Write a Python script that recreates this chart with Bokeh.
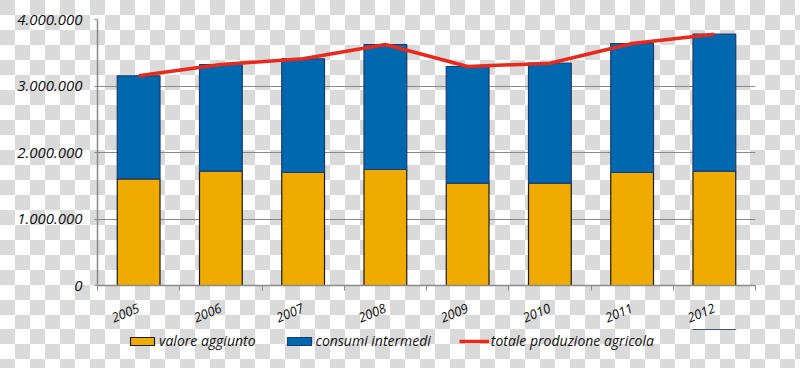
from bokeh.plotting import figure
from bokeh.layouts import column
from bokeh.models import (ColumnDataSource, FixedTicker, Legend, LegendItem,
                          CDSView, IndexFilter)
from bokeh.embed import file_html
from bokeh.resources import INLINE

# ---- data ----
years = ["2005", "2006", "2007", "2008", "2009", "2010", "2011", "2012"]
valore_aggiunto = [1604000, 1719000, 1699000, 1744000, 1538000, 1538000, 1699000, 1719000]
consumi_intermedi = [1549000, 1604000, 1710000, 1880000, 1755000, 1805000, 1940000, 2060000]
totale_produzione = [3153000, 3323000, 3409000, 3624000, 3293000, 3343000, 3639000, 3779000]
y_ticks = [0, 1000000, 2000000, 3000000, 4000000]
y_tick_labels = ["0", "1.000.000", "2.000.000", "3.000.000", "4.000.000"]
series_names = ["valore aggiunto", "consumi intermedi", "totale produzione agricola"]

xpos = list(range(len(years)))
source = ColumnDataSource(dict(x=xpos, valore=valore_aggiunto, consumi=consumi_intermedi,
                               totale=totale_produzione))

FONT = "Open Sans"
CHECKER = {"background-image": "repeating-conic-gradient(#ffffff 0% 25%, #dadada 0% 50%)",
           "background-size": "30px 30px", "background-position": "0 0"}
YELLOW, YELLOW_LINE = "#EFAB00", "#1a1a1a"
BLUE, BLUE_LINE = "#0068AE", "#1C3A70"
RED = "#E8291C"
GRID = "#8a8a8a"

p = figure(width=800, height=329, output_backend="svg", toolbar_location=None,
           x_range=(-0.5, len(years) - 0.5), y_range=(0, 4000000),
           min_border_left=97, min_border_right=45, min_border_top=19, min_border_bottom=44)
p.background_fill_color = None
p.border_fill_color = None
p.outline_line_color = None
p.styles = CHECKER

bars = p.vbar_stack(["valore", "consumi"], x="x", width=0.52, source=source,
                    fill_color=[YELLOW, BLUE], line_color=[YELLOW_LINE, BLUE_LINE],
                    line_width=1.2)
line = p.line("x", "totale", source=source, line_color=RED, line_width=3.5)

# axes
p.xaxis.ticker = FixedTicker(ticks=xpos, minor_ticks=[i - 0.5 for i in range(len(years) + 1)])
p.xaxis.major_label_overrides = {i: y for i, y in enumerate(years)}
p.xaxis.major_tick_out = 0
p.xaxis.major_tick_in = 0
p.xaxis.minor_tick_out = 5
p.xaxis.minor_tick_in = 0
p.xaxis.minor_tick_line_color = GRID
p.xaxis.major_label_orientation = 0.40
p.xaxis.major_label_standoff = 17

p.yaxis.ticker = FixedTicker(ticks=y_ticks)
p.yaxis.major_label_overrides = {t: l for t, l in zip(y_ticks, y_tick_labels)}
p.yaxis.major_tick_out = 3
p.yaxis.major_tick_in = 0
p.yaxis.minor_tick_line_color = None
p.yaxis.major_label_standoff = 12

for ax in (p.xaxis, p.yaxis):
    ax.axis_line_color = GRID
    ax.axis_line_width = 1.5
    ax.major_tick_line_color = GRID
    ax.major_label_text_font = FONT
    ax.major_label_text_font_style = "italic"
    ax.major_label_text_font_size = "13px"
    ax.major_label_text_color = "#111111"
p.yaxis.major_label_text_font_size = "15px"

p.xgrid.grid_line_color = None
p.ygrid.grid_line_color = GRID
p.ygrid.grid_line_width = 1.2

# ---- legend strip (separate figure so that the legend is not clipped) ----
# same data and styles, kept outside this strip's visible y range: only the legend shows
pl = figure(width=800, height=39, output_backend="svg", toolbar_location=None,
            x_axis_type=None, y_axis_type=None, min_border=0,
            x_range=(-0.5, len(years) - 0.5), y_range=(-8000000, -4000000))
pl.background_fill_color = None
pl.border_fill_color = None
pl.outline_line_color = None
pl.grid.grid_line_color = None
pl.styles = CHECKER

last = [len(years) - 1]
r1 = pl.vbar(x="x", top="valore", width=0.52, source=source, fill_color=YELLOW,
             line_color=YELLOW_LINE, line_width=1.2,
             view=CDSView(filter=IndexFilter(indices=last)))
r2 = pl.vbar(x="x", top="consumi", width=0.52, source=source, fill_color=BLUE,
             line_color=BLUE_LINE, line_width=1.2,
             view=CDSView(filter=IndexFilter(indices=last)))
r3 = pl.line(x="x", y="totale", source=source, line_color=RED, line_width=3.5,
             view=CDSView(filter=IndexFilter(indices=last)))

legend = Legend(items=[LegendItem(label=series_names[0], renderers=[r1]),
                       LegendItem(label=series_names[1], renderers=[r2]),
                       LegendItem(label=series_names[2], renderers=[r3])],
                orientation="horizontal", location=(30, 18),
                glyph_width=30, glyph_height=10, label_standoff=2,
                spacing=28, padding=0, margin=0, border_line_color=None,
                background_fill_alpha=0,
                label_text_font=FONT, label_text_font_style="italic",
                label_text_font_size="14px", label_text_color="#111111")
pl.add_layout(legend)

layout = column(p, pl, spacing=0)
layout.styles = CHECKER

html = file_html(layout, INLINE)
open("out.html", "w").write(html)
